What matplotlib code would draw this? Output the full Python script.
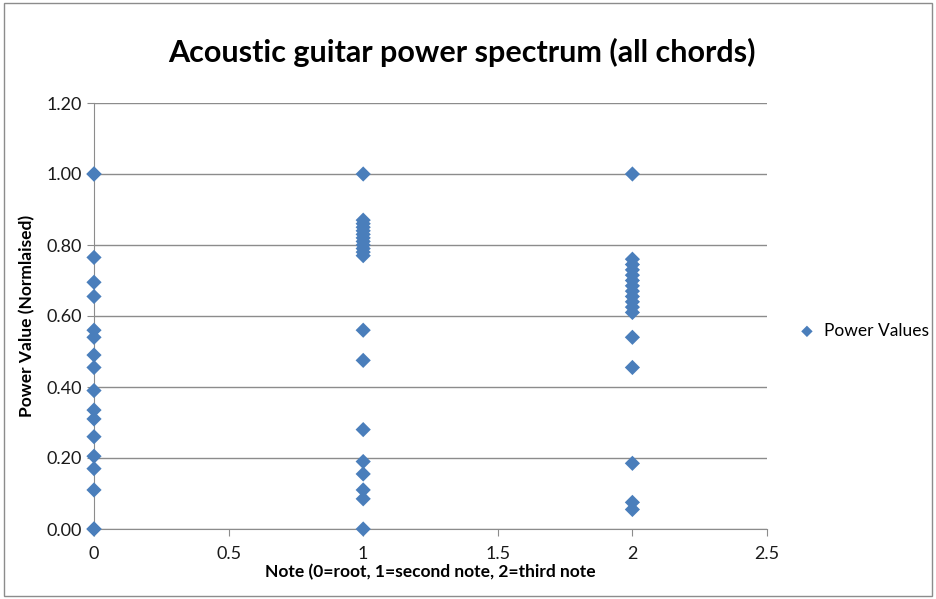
import matplotlib.pyplot as plt
from matplotlib.patches import Rectangle

plt.rcParams["font.family"] = ["Lato", "DejaVu Sans"]

# Normalised power values for each note of the chord
root_values = [1.00, 1.00, 0.765, 0.695, 0.655, 0.56, 0.54, 0.49, 0.455, 0.39,
               0.335, 0.31, 0.26, 0.205, 0.17, 0.11, 0.00, 0.00]
second_values = [1.00, 0.87, 0.86, 0.85, 0.84, 0.83, 0.82, 0.81, 0.80, 0.79,
                 0.78, 0.77, 0.56, 0.475, 0.28, 0.19, 0.155, 0.11, 0.085, 0.00]
third_values = [1.00, 0.76, 0.745, 0.73, 0.715, 0.70, 0.685, 0.67, 0.655, 0.64,
                0.625, 0.61, 0.54, 0.455, 0.185, 0.075, 0.055]

notes = [0] * len(root_values) + [1] * len(second_values) + [2] * len(third_values)
values = root_values + second_values + third_values

fig = plt.figure(figsize=(9.37, 5.99), dpi=100)
ax = fig.add_axes([94 / 937, 1 - 529 / 599, (767 - 94) / 937, (529 - 103) / 599])

# Chart border
fig.patches.append(Rectangle((0.004, 0.005), 0.991, 0.99, transform=fig.transFigure,
                             fill=False, edgecolor="#8c8c8c", linewidth=1))

ax.scatter(notes, values, marker="D", s=60, color="#4a7ebb", zorder=3,
           label="Power Values", edgecolors="none", clip_on=False)

ax.set_xlim(0, 2.5)
ax.set_ylim(0, 1.2)
ax.set_xticks([0, 0.5, 1, 1.5, 2, 2.5])
ax.set_xticklabels(["0", "0.5", "1", "1.5", "2", "2.5"])
ax.set_yticks([0, 0.2, 0.4, 0.6, 0.8, 1.0, 1.2])
ax.set_yticklabels(["%.2f" % v for v in [0, 0.2, 0.4, 0.6, 0.8, 1.0, 1.2]])
ax.grid(axis="y", color="#8c8c8c", linewidth=1)
ax.set_axisbelow(True)

for side in ["top", "right"]:
    ax.spines[side].set_visible(False)
for side in ["left", "bottom"]:
    ax.spines[side].set_color("#8c8c8c")
ax.tick_params(axis="both", colors="#8c8c8c", labelcolor="#1a1a1a", labelsize=13,
               length=5, direction="out")
ax.tick_params(axis="x", pad=7)

# Title is centred on the whole chart, not just the plot area
fig.text(462 / 937, 1 - 52 / 599, "Acoustic guitar power spectrum (all chords)",
         fontsize=22, fontweight="bold", ha="center", va="center")
ax.set_xlabel("Note (0=root, 1=second note, 2=third note", fontsize=12.5,
              fontweight="bold", labelpad=2)
ax.set_ylabel("Power Value (Normlaised)", fontsize=12.5, fontweight="bold", labelpad=8)

ax.legend(loc="center left", bbox_to_anchor=(1.0, 0.465), frameon=False,
          fontsize=12.5, handletextpad=0.0, markerscale=0.75, borderaxespad=0.9)

fig.savefig("out.png", dpi=100)
